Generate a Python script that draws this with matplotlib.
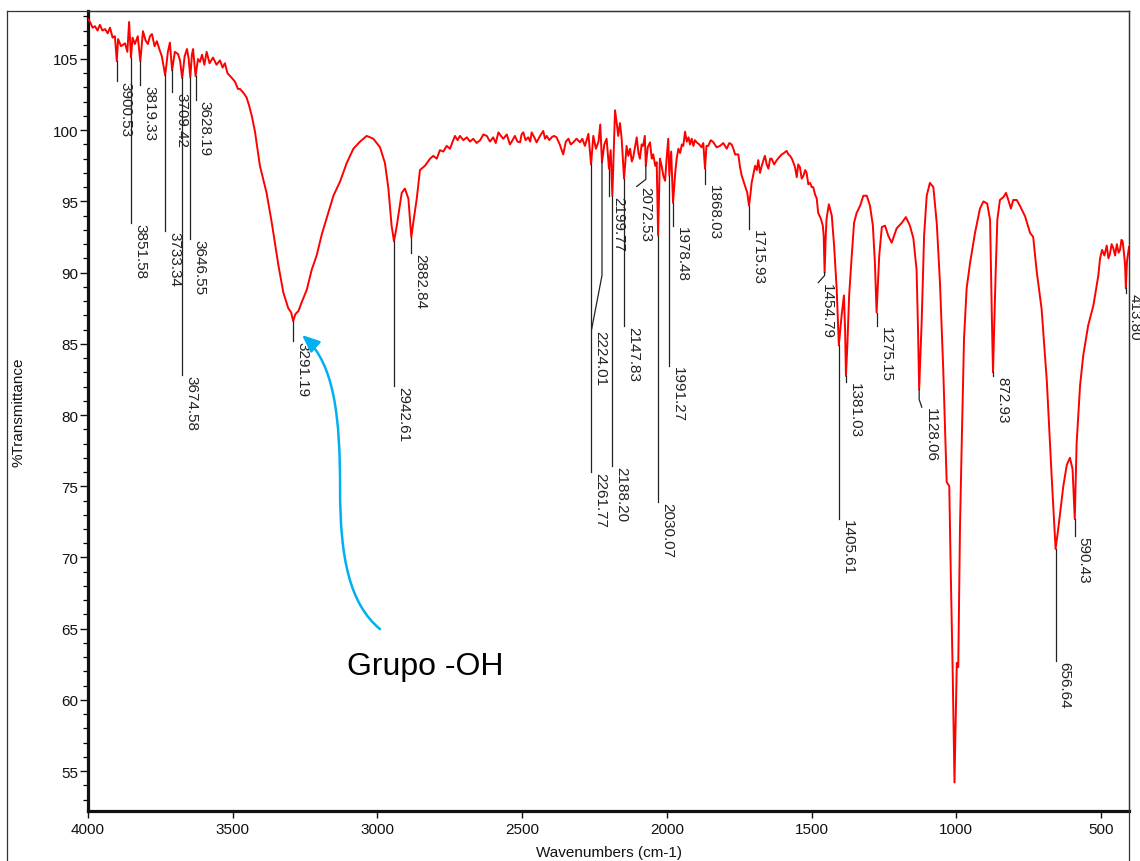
import matplotlib
matplotlib.use('Agg')
import matplotlib.pyplot as plt
import numpy as np
from matplotlib.path import Path
from matplotlib.patches import FancyArrowPatch
from matplotlib.lines import Line2D
from matplotlib.ticker import MultipleLocator

plt.rcParams['font.family'] = ['Liberation Sans', 'DejaVu Sans']

# ---------------- spectrum data (wavenumber cm-1, %T) ----------------
wn = [4000, 3993, 3984, 3976, 3967, 3959, 3950, 3941, 3932, 3924, 3915, 3907, 3900.53, 3896, 3886,
      3872, 3864, 3858, 3851.58, 3846, 3838, 3828, 3819.33, 3810, 3801, 3793, 3786, 3779, 3770, 3762,
      3752, 3745, 3733.34, 3724, 3717, 3709.42, 3700, 3689, 3682, 3674.58, 3666, 3658, 3652, 3646.55,
      3641, 3637, 3628.19, 3620, 3613, 3606, 3598, 3590, 3580, 3568, 3556, 3544, 3535, 3527, 3518,
      3509, 3500, 3492, 3482, 3475, 3462, 3452, 3443, 3434, 3423, 3406, 3383, 3365, 3342, 3325, 3308,
      3298, 3291.19, 3283, 3273, 3262, 3244, 3227, 3210, 3192, 3170, 3152, 3129, 3106, 3083, 3060,
      3037, 3014, 2991, 2974, 2962, 2951, 2942.61, 2933, 2916, 2905, 2893, 2882.84, 2874, 2864, 2853,
      2836, 2818, 2807, 2795, 2784, 2772, 2761, 2749, 2740, 2732, 2723, 2715, 2703, 2691, 2680, 2669,
      2657, 2645, 2634, 2622, 2611, 2600, 2591, 2582, 2573, 2565, 2553, 2542, 2533, 2525, 2516, 2507,
      2502, 2496, 2488, 2479, 2472, 2467, 2458, 2450, 2438, 2427, 2421, 2415, 2406, 2398, 2390, 2381,
      2370, 2358, 2349, 2340, 2332, 2323, 2312, 2300, 2292, 2283, 2277, 2271, 2261.77, 2254, 2245,
      2236, 2230, 2224.01, 2216, 2208, 2199.77, 2194, 2188.20, 2182, 2179, 2173, 2168, 2162, 2156,
      2147.83, 2139, 2133, 2127, 2121, 2116, 2104, 2098, 2093, 2087, 2082, 2076, 2072.53, 2066, 2058,
      2052, 2047, 2040, 2035, 2030.07, 2024, 2018, 2012, 2006, 2000, 1995, 1991.27, 1985, 1978.48,
      1971, 1966, 1960, 1954, 1948, 1943, 1937, 1931, 1925, 1920, 1914, 1908, 1903, 1897, 1888, 1880,
      1874, 1868.03, 1863, 1857, 1848, 1839, 1828, 1816, 1805, 1793, 1784, 1776, 1770, 1764, 1753,
      1747, 1741, 1730, 1722, 1715.93, 1711, 1707, 1700, 1695, 1689, 1684, 1678, 1672, 1666, 1661,
      1655, 1649, 1643, 1638, 1629, 1620, 1612, 1603, 1595, 1586, 1580, 1574, 1568, 1563, 1557, 1551,
      1546, 1540, 1534, 1528, 1522, 1517, 1511, 1505, 1499, 1494, 1488, 1482, 1477, 1468, 1461, 1458,
      1454.79, 1451, 1448, 1440, 1430, 1422, 1413, 1405.61, 1396, 1388, 1384, 1381.03, 1376, 1370,
      1361, 1353, 1344, 1332, 1321, 1309, 1298, 1288, 1281, 1275.15, 1266, 1257, 1246, 1235, 1223,
      1206, 1188, 1174, 1160, 1148, 1137, 1132, 1128.06, 1119, 1111, 1102, 1091, 1079, 1067, 1056,
      1045, 1033, 1024, 1019, 1012, 1006, 998, 993, 987, 981, 973, 964, 952, 935, 918, 906, 893, 883,
      877, 872.93, 864, 858, 849, 837, 828, 820, 811, 803, 791, 780, 762, 745, 734, 722, 705, 687, 670,
      656.64, 647, 630, 618, 607, 598, 590.43, 584, 572, 561, 544, 526, 509, 503, 496, 488, 480, 474,
      469, 463, 457, 451, 445, 439, 434, 429, 425, 420, 416.5, 413.80, 410, 405, 403]
tr = [107.8, 107.6, 107.2, 107.3, 107.0, 107.4, 107.0, 107.1, 106.8, 107.2, 106.5, 106.6, 104.85, 106.4, 105.9,
      106.1, 105.5, 107.6, 105.1, 106.5, 106.05, 106.6, 104.85, 106.95, 106.3, 106.05, 106.6, 106.75, 105.9, 106.25,
      105.6, 105.2, 103.85, 105.5, 106.15, 104.2, 105.5, 105.35, 104.9, 103.65, 105.2, 105.7, 105.0, 103.7,
      105.3, 105.7, 103.8, 105.0, 104.8, 105.3, 104.6, 105.5, 104.7, 105.1, 104.6, 104.9, 104.4, 104.7, 104.0,
      103.8, 103.6, 103.4, 102.9, 102.9, 102.6, 102.3, 101.7, 101.0, 99.9, 97.5, 95.6, 93.5, 90.5, 88.6, 87.5,
      87.2, 86.6, 87.1, 87.3, 87.9, 88.8, 90.2, 91.2, 92.7, 94.2, 95.4, 96.4, 97.7, 98.7, 99.2,
      99.6, 99.4, 98.8, 97.7, 95.9, 93.3, 92.2, 93.3, 95.6, 95.9, 95.2, 92.5, 93.8, 95.2, 97.2,
      97.5, 98.0, 98.2, 98.0, 98.6, 98.5, 98.9, 98.7, 99.2, 99.6, 99.3, 99.6, 99.3, 99.5, 99.2, 99.4,
      99.1, 99.3, 99.7, 99.6, 99.2, 99.5, 99.1, 99.85, 99.6, 99.4, 99.7, 99.0, 99.3, 99.6, 99.2, 99.15,
      99.7, 99.85, 99.3, 99.5, 99.2, 99.85, 99.5, 99.15, 99.6, 99.95, 99.4, 99.6, 99.3, 99.5, 99.6, 99.5,
      99.0, 98.3, 99.2, 99.4, 99.0, 99.15, 99.4, 99.15, 99.4, 98.9, 99.3, 99.75, 97.6, 99.6, 98.7,
      99.2, 100.4, 97.75, 99.0, 99.4, 97.3, 98.6, 95.4, 99.5, 101.4, 100.5, 99.6, 100.5, 99.4,
      96.6, 98.9, 98.2, 98.7, 97.8, 98.1, 99.5, 98.4, 98.0, 99.0, 98.9, 99.6, 97.5, 98.8, 99.15,
      98.0, 98.3, 97.5, 97.75, 92.6, 98.0, 97.5, 96.8, 96.45, 98.2, 99.4, 96.8, 98.5, 94.9,
      97.0, 98.0, 98.7, 98.4, 99.0, 98.9, 99.9, 99.2, 99.5, 99.0, 99.4, 98.9, 99.3, 99.15, 99.0, 98.8,
      99.1, 97.3, 98.9, 98.9, 99.3, 99.15, 98.8, 98.9, 99.1, 98.7, 99.1, 99.0, 98.7, 98.3, 98.3,
      97.4, 96.8, 96.1, 95.6, 94.7, 95.5, 96.3, 97.0, 97.5, 97.2, 97.9, 97.0, 97.5, 97.9, 98.2,
      97.6, 97.3, 98.0, 98.0, 97.6, 97.9, 98.1, 98.3, 98.4, 98.55, 98.3, 98.2, 98.0, 97.75, 97.4, 96.7,
      97.6, 97.4, 96.6, 96.8, 97.2, 97.0, 96.2, 96.3, 96.0, 96.0, 95.5, 95.2, 94.2, 93.8, 93.3, 92.6,
      90.0, 92.5, 93.8, 94.8, 94.0, 91.9, 88.85, 84.9, 87.0, 88.4, 86.0, 82.75, 85.0, 88.4,
      91.2, 93.5, 94.2, 94.7, 95.4, 95.4, 94.7, 93.3, 90.7, 87.2, 91.2, 93.2, 93.3, 92.6, 92.1,
      93.1, 93.5, 93.9, 93.3, 92.4, 90.2, 86.0, 81.8, 86.8, 92.6, 95.4, 96.3, 96.0, 93.4, 89.2,
      83.3, 75.3, 75.0, 69.1, 61.7, 54.2, 62.6, 62.3, 72.1, 78.0, 85.4, 88.9, 90.7, 92.8, 94.5, 95.0, 94.85, 93.7,
      87.0, 83.0, 89.8, 93.7, 95.1, 95.3, 95.6, 95.1, 94.5, 95.1, 95.1, 94.7, 93.95, 92.8, 92.5, 90.1, 87.45, 82.4, 75.6,
      70.6, 72.1, 75.0, 76.5, 77.0, 76.2, 72.7, 78.0, 82.1, 84.2, 86.3, 87.7, 89.8, 91.0, 91.6, 91.2, 91.9, 91.0,
      91.3, 92.0, 91.7, 91.2, 92.0, 91.4, 91.6, 92.3, 92.2, 91.3, 90.5, 88.9, 90.8, 91.5, 91.8]

# ---------------- peak labels ----------------
label_wn = [3900.53, 3851.58, 3819.33, 3733.34, 3709.42, 3674.58, 3646.55, 3628.19, 3291.19,
            2942.61, 2882.84, 2261.77, 2224.01, 2199.77, 2188.20, 2147.83, 2072.53, 2030.07,
            1991.27, 1978.48, 1868.03, 1715.93, 1454.79, 1405.61, 1381.03, 1275.15, 1128.06,
            872.93, 656.64, 590.43, 413.80]
label_txt = ['3900.53', '3851.58', '3819.33', '3733.34', '3709.42', '3674.58', '3646.55', '3628.19',
             '3291.19', '2942.61', '2882.84', '2261.77', '2224.01', '2199.77', '2188.20', '2147.83',
             '2072.53', '2030.07', '1991.27', '1978.48', '1868.03', '1715.93', '1454.79', '1405.61',
             '1381.03', '1275.15', '1128.06', '872.93', '656.64', '590.43', '413.80']
# %T where the leader ends and the text begins
label_y = [103.45, 93.45, 103.15, 92.95, 102.65, 82.8, 92.35, 102.1, 85.2,
           82.05, 91.4, 76.0, 86.0, 95.4, 76.45, 86.25, 96.05, 73.9,
           83.45, 93.25, 96.2, 93.05, 89.3, 72.7, 82.3, 86.25, 80.55,
           82.75, 62.75, 71.5, 88.6]
# bent leaders: knee %T and wavenumber of the leader end (None = straight)
label_knee_y = ([None] * 12 + [89.8, None, None, None, 96.55] + [None] * 5 + [89.8]
                + [None] * 3 + [81.1] + [None] * 4)
label_end_wn = ([None] * 12 + [2260.0, None, None, None, 2104.0] + [None] * 5 + [1476.5]
                + [None] * 3 + [1119.0] + [None] * 4)

x_ticks = [4000, 3500, 3000, 2500, 2000, 1500, 1000, 500]
y_ticks = [55, 60, 65, 70, 75, 80, 85, 90, 95, 100, 105]

annot_text = 'Grupo -OH'

# ---------------- figure ----------------
W, H = 1140, 862
fig = plt.figure(figsize=(W / 100, H / 100), dpi=100)
fig.patch.set_facecolor('white')
ax = fig.add_axes([88 / W, 1 - 812 / H, (1129 - 88) / W, (812 - 12) / H])

ax.plot(wn, tr, color='#FF0000', lw=1.4, zorder=3)
ax.set_xlim(4000, 403)
ax.set_ylim(52.2, 108.37)

ax.set_xticks(x_ticks)
ax.set_xticklabels([str(v) for v in x_ticks])
ax.set_yticks(y_ticks)
ax.set_yticklabels([str(v) for v in y_ticks])
ax.yaxis.set_minor_locator(MultipleLocator(1))
ax.tick_params(axis='both', which='major', labelsize=11, colors='#111111', direction='out')
ax.tick_params(axis='y', which='major', length=6, width=1.0, pad=1)
ax.tick_params(axis='y', which='minor', length=3.5, width=0.9)
ax.tick_params(axis='x', which='major', length=5, width=1.0, pad=3)

for s in ['left', 'bottom']:
    ax.spines[s].set_linewidth(2.3)
    ax.spines[s].set_color('#111111')
for s in ['top', 'right']:
    ax.spines[s].set_linewidth(0.9)
    ax.spines[s].set_color('#333333')

ax.set_xlabel('Wavenumbers (cm-1)', fontsize=11, color='#111111')
ax.set_ylabel('%Transmittance', fontsize=11, color='#111111')
ax.xaxis.set_label_coords(0.5, -0.042)
ax.yaxis.set_label_coords(-0.0596, 0.5)

# peak leaders and labels
wn_asc = np.array(wn)[::-1]
tr_asc = np.array(tr)[::-1]
for w, txt, ty, ky, kx in zip(label_wn, label_txt, label_y, label_knee_y, label_end_wn):
    y0 = float(np.interp(w, wn_asc, tr_asc))
    if ky is None:
        xs, ys, tx = [w, w], [y0, ty], w
    else:
        xs, ys, tx = [w, w, kx], [y0, ky, ty], kx
    ax.plot(xs, ys, color='#222222', lw=0.9, zorder=4, clip_on=False)
    ax.annotate(txt, xy=(tx, ty), xytext=(6.5, 0), textcoords='offset points',
                rotation=-90, ha='center', va='top', fontsize=11, color='#222222',
                annotation_clip=False, zorder=5)

# annotation text and curved arrow
ax.text(2835, 62.4, annot_text, fontsize=23, ha='center', va='center', color='black')
verts = [(2991, 64.97), (3095, 66.73), (3129, 69.89), (3129, 74.80),
         (3129, 79.72), (3146.5, 83.58), (3260.5, 85.62)]
codes = [Path.MOVETO, Path.CURVE4, Path.CURVE4, Path.CURVE4, Path.CURVE4, Path.CURVE4, Path.CURVE4]
arrow = FancyArrowPatch(path=Path(verts, codes), arrowstyle='-|>,head_length=0.75,head_width=0.32',
                        mutation_scale=14, color='#00B0F0', lw=1.8, zorder=6)
ax.add_patch(arrow)
arrow.set_clip_on(False)

# outer frame
fx0 = 7 / W
fxr = 1129 / W
fyt = 1 - 12 / H
fig.add_artist(Line2D([fx0, fx0], [0, fyt], transform=fig.transFigure, color='#333333', lw=0.9))
fig.add_artist(Line2D([fx0, fxr], [fyt, fyt], transform=fig.transFigure, color='#333333', lw=0.9))
fig.add_artist(Line2D([fxr, fxr], [0, fyt], transform=fig.transFigure, color='#333333', lw=0.9))

fig.savefig('out.png', dpi=100)
